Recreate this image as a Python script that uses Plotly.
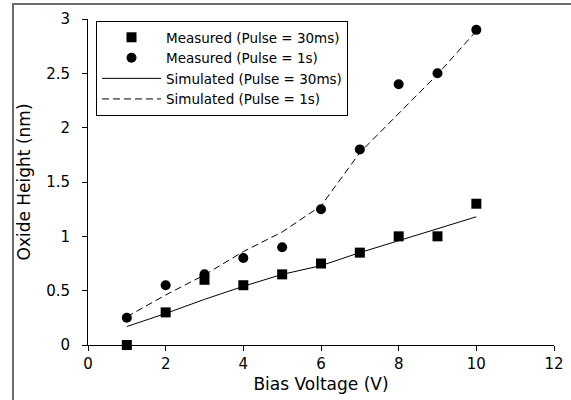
import plotly.graph_objects as go

voltage = [1, 2, 3, 4, 5, 6, 7, 8, 9, 10]
meas_30ms = [0.0, 0.30, 0.60, 0.55, 0.65, 0.75, 0.85, 1.00, 1.00, 1.30]
meas_1s = [0.25, 0.55, 0.65, 0.80, 0.90, 1.25, 1.80, 2.40, 2.50, 2.90]
sim_30ms = [0.17, 0.29, 0.42, 0.54, 0.65, 0.73, 0.85, 0.96, 1.07, 1.18]
sim_1s = [0.26, 0.46, 0.645, 0.86, 1.04, 1.28, 1.77, 2.13, 2.49, 2.89]

x_ticks = [0, 2, 4, 6, 8, 10, 12]
y_ticks = [0, 0.5, 1, 1.5, 2, 2.5, 3]

fig = go.Figure()
fig.add_trace(go.Scatter(x=voltage, y=meas_30ms, mode="markers", name="Measured (Pulse = 30ms)",
                         marker=dict(symbol="square", size=10, color="black"), cliponaxis=False))
fig.add_trace(go.Scatter(x=voltage, y=meas_1s, mode="markers", name="Measured (Pulse = 1s)",
                         marker=dict(symbol="circle", size=10, color="black"), cliponaxis=False))
fig.add_trace(go.Scatter(x=voltage, y=sim_30ms, mode="lines", name="Simulated (Pulse = 30ms)",
                         line=dict(color="black", width=1)))
fig.add_trace(go.Scatter(x=voltage, y=sim_1s, mode="lines", name="Simulated (Pulse = 1s)",
                         line=dict(color="black", width=1, dash="7px,4px")))

ml, mr, mt, mb = 88, 17, 19, 55
W, H = 571, 400
pw, ph = W - ml - mr, H - mt - mb

bx0 = (13 - ml) / pw
by_top = 1 + (mt - 4) / ph
by_bot = -(mb + 5) / ph
border = dict(color="#6a6a6a", width=2)

fig.update_layout(
    width=W, height=H,
    margin=dict(l=ml, r=mr, t=mt, b=mb, autoexpand=False),
    paper_bgcolor="white", plot_bgcolor="white",
    font=dict(family="DejaVu Sans", size=14, color="black"),
    legend=dict(x=(96 - ml) / pw, y=1 - (21 - mt) / ph, xanchor="left", yanchor="top",
                bordercolor="black", borderwidth=1, bgcolor="white",
                font=dict(size=13.5), tracegroupgap=0, itemwidth=59),
    xaxis=dict(range=[0, 12], tickvals=x_ticks, showgrid=False, zeroline=False, automargin=False,
               showline=True, linecolor="black", linewidth=1, ticks="outside", ticklen=5,
               tickcolor="black", tickfont=dict(size=15),
               title=dict(text="Bias Voltage (V)", standoff=6)),
    yaxis=dict(range=[0, 3], tickvals=y_ticks, showgrid=False, zeroline=False, automargin=False,
               showline=True, linecolor="black", linewidth=1, ticks="outside", ticklen=5,
               tickcolor="black", tickfont=dict(size=15), ticklabelstandoff=9,
               title=dict(text="Oxide Height (nm)", standoff=11)),
    shapes=[
        dict(type="line", xref="paper", yref="paper", x0=bx0, x1=0, y0=by_top, y1=by_top,
             line=border, layer="above"),
        dict(type="line", xref="paper", yref="paper", x0=0, x1=1 + mr / pw, y0=by_top, y1=by_top,
             line=border, layer="above"),
        dict(type="line", xref="paper", yref="paper", x0=bx0, x1=bx0, y0=by_bot, y1=by_top,
             line=border, layer="above"),
    ],
)

post = (
    "document.body.style.margin='0';"
    "document.documentElement.style.overflow='hidden';"
    "document.body.style.overflow='hidden';"
    "var d=document.createElement('div');"
    "d.style.cssText='position:absolute;left:12px;top:3px;width:559px;height:0;"
    "border-top:2px solid #6a6a6a;z-index:10;pointer-events:none';"
    "document.body.appendChild(d);"
)

fig.write_html("out.html", config={"displayModeBar": False}, post_script=post)
